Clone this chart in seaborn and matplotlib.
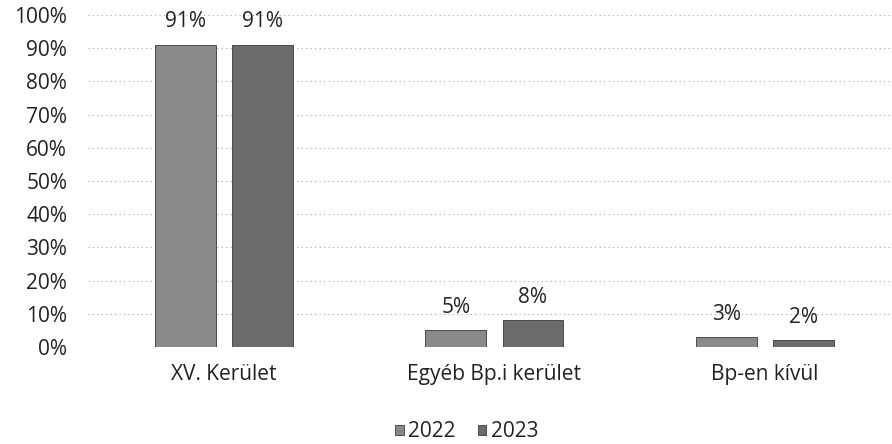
import matplotlib
matplotlib.use("Agg")
import matplotlib.pyplot as plt
import seaborn as sns
import pandas as pd

# data
categories = ["XV. Kerület", "Egyéb Bp.i kerület", "Bp-en kívül"]
years = ["2022", "2023"]
values_2022 = [91, 5, 3]
values_2023 = [91, 8, 2]

df = pd.DataFrame({
    "cat": categories * 2,
    "year": [years[0]] * 3 + [years[1]] * 3,
    "val": values_2022 + values_2023,
})

sns.set_style("white")
plt.rcParams["font.family"] = ["Open Sans", "DejaVu Sans"]
fs = 15

fig = plt.figure(figsize=(8.92, 4.44), dpi=100)
ax = fig.add_axes([88 / 892, 1 - 347 / 444, 804 / 892, 332 / 444])

sns.barplot(data=df, x="cat", y="val", hue="year", order=categories,
            palette=["#8a8a8a", "#6c6c6c"], width=0.57, gap=0.21,
            edgecolor="#3a3a3a", linewidth=0.6, ax=ax, legend=True)

for c in ax.containers:
    ax.bar_label(c, labels=[f"{v:.0f}%" for v in c.datavalues], padding=9,
                 fontsize=fs, color="#222222")

ax.set_ylim(0, 100)
ax.set_xlim(-0.503, 2.47)
ax.set_yticks(range(0, 101, 10))
ax.set_yticklabels([f"{t}%" for t in range(0, 101, 10)])
ax.tick_params(axis="y", length=0, pad=15, labelsize=fs, labelcolor="#222222")
ax.tick_params(axis="x", length=0, pad=12, labelsize=fs, labelcolor="#222222")
ax.yaxis.grid(True, linestyle=(0, (1, 3)), color="#a8a8a8", linewidth=0.8)
ax.set_axisbelow(True)
ax.set_xlabel("")
ax.set_ylabel("")
sns.despine(ax=ax, left=True, bottom=True)

ax.legend(loc="center", bbox_to_anchor=(0.471, -0.256), ncol=2, frameon=False,
          fontsize=fs, handlelength=0.4, handleheight=0.4, handletextpad=0.2,
          columnspacing=1.1, labelcolor="#222222")

fig.savefig("out.png", dpi=100)
